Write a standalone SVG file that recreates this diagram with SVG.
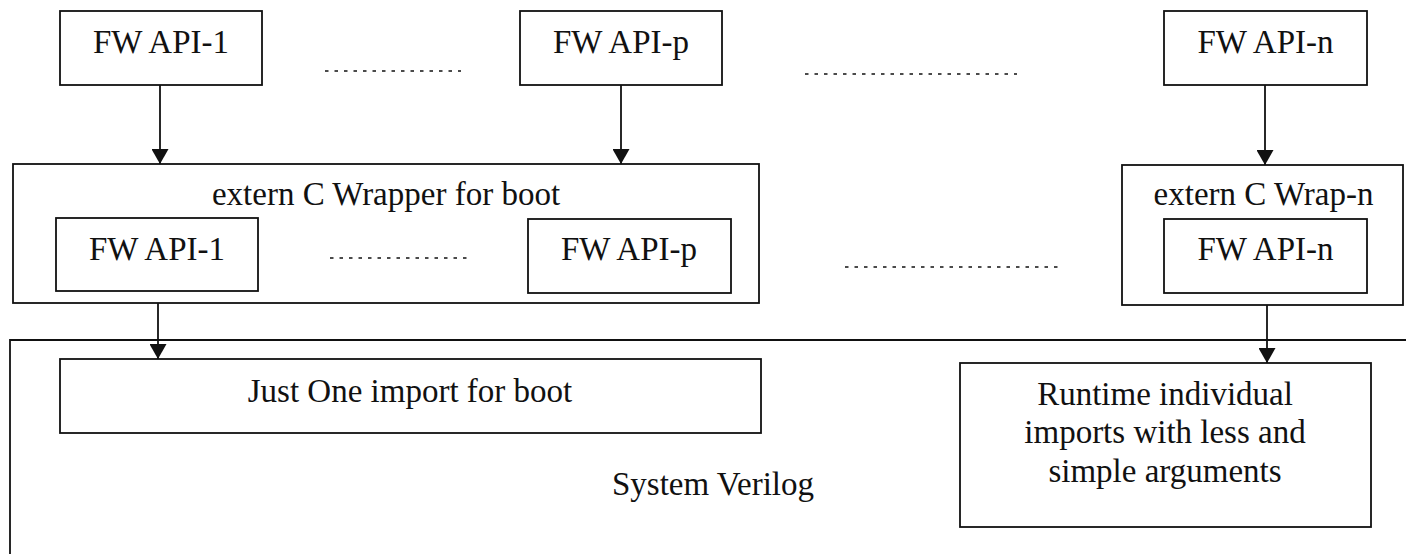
<svg xmlns="http://www.w3.org/2000/svg" width="1406" height="554" viewBox="0 0 1406 554">
<style>
.box{fill:#fff;stroke:#111;stroke-width:1.8}
.frame{fill:none;stroke:#111;stroke-width:1.8}
.t{font-family:"Liberation Serif","Times New Roman",serif;font-size:33px;fill:#111;text-anchor:middle}
.dot{stroke:#111;stroke-width:1.5;stroke-dasharray:3.5 6;fill:none}
.arr{stroke:#111;stroke-width:1.8;fill:none;marker-end:url(#ah)}
</style>
<defs>
<marker id="ah" markerUnits="userSpaceOnUse" markerWidth="16" markerHeight="17" refX="15" refY="8.5" orient="auto">
<path d="M0,0 L15,8.5 L0,17 z" fill="#111"/>
</marker>
</defs>
<rect width="1406" height="554" fill="#fff"/>
<g id="system-verilog">
<path class="frame" d="M1410,340 H10 V560"/>
<text class="t" x="713" y="495">System Verilog</text>
</g>
<g id="top-api-1"><rect class="box" x="60" y="11" width="202" height="74"/><text class="t" x="161" y="53">FW API-1</text></g>
<g id="top-api-p"><rect class="box" x="520" y="11" width="202" height="74"/><text class="t" x="621" y="53">FW API-p</text></g>
<g id="top-api-n"><rect class="box" x="1164" y="11" width="203" height="74"/><text class="t" x="1265.5" y="53">FW API-n</text></g>
<g id="wrapper-boot">
<rect class="box" x="13" y="164" width="746" height="139"/>
<text class="t" x="386" y="205">extern C Wrapper for boot</text>
</g>
<g id="inner-api-1"><rect class="box" x="56" y="218" width="202" height="73"/><text class="t" x="157" y="260">FW API-1</text></g>
<g id="inner-api-p"><rect class="box" x="528" y="219" width="203" height="74"/><text class="t" x="629" y="260">FW API-p</text></g>
<g id="wrapper-n">
<rect class="box" x="1122" y="165" width="281" height="140"/>
<text class="t" x="1263.5" y="205">extern C Wrap-n</text>
</g>
<g id="inner-api-n"><rect class="box" x="1164" y="219" width="203" height="74"/><text class="t" x="1265.5" y="260">FW API-n</text></g>
<g id="import-boot"><rect class="box" x="60" y="359" width="701" height="74"/><text class="t" x="410" y="402">Just One import for boot</text></g>
<g id="runtime-imports">
<rect class="box" x="960" y="363" width="411" height="164"/>
<text class="t" x="1165" y="405">Runtime individual</text>
<text class="t" x="1165" y="443">imports with less and</text>
<text class="t" x="1165" y="482">simple arguments</text>
</g>
<g id="ellipses">
<line class="dot" x1="325" y1="71" x2="461" y2="71"/>
<line class="dot" x1="805" y1="74" x2="1017" y2="74"/>
<line class="dot" x1="330" y1="258" x2="467" y2="258"/>
<line class="dot" x1="845" y1="267" x2="1063" y2="267"/>
</g>
<g id="connectors">
<line class="arr" x1="160" y1="85" x2="160" y2="164"/>
<line class="arr" x1="621" y1="85" x2="621" y2="164"/>
<line class="arr" x1="1265" y1="85" x2="1265" y2="165"/>
<line class="arr" x1="158" y1="303" x2="158" y2="359"/>
<line class="arr" x1="1267" y1="305" x2="1267" y2="363"/>
</g>
</svg>
